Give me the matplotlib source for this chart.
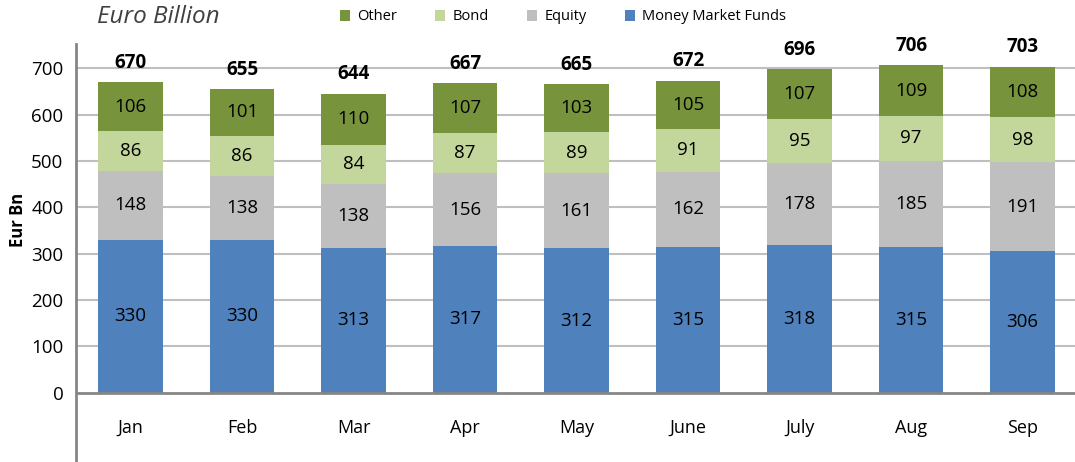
import matplotlib
matplotlib.use("Agg")
import matplotlib.pyplot as plt
import numpy as np

months = ["Jan", "Feb", "Mar", "Apr", "May", "June", "July", "Aug", "Sep"]
mmf = [330, 330, 313, 317, 312, 315, 318, 315, 306]
equity = [148, 138, 138, 156, 161, 162, 178, 185, 191]
bond = [86, 86, 84, 87, 89, 91, 95, 97, 98]
other = [106, 101, 110, 107, 103, 105, 107, 109, 108]
totals = [670, 655, 644, 667, 665, 672, 696, 706, 703]
series_names = ["Money Market Funds", "Equity", "Bond", "Other"]
colors = ["#4F81BD", "#BFBFBF", "#C3D69B", "#77933C"]

plt.rcParams['font.family'] = ['Open Sans', 'DejaVu Sans']

fig = plt.figure(figsize=(10.75, 4.62), dpi=100)
ax = fig.add_axes([76/1075, 0, 1 - 76/1075, 1 - 44/462])

x = np.arange(len(months))
width = 0.58
bottom = np.zeros(len(months))
handles = []
for name, vals, c in zip(series_names, [mmf, equity, bond, other], colors):
    vals = np.array(vals, dtype=float)
    b = ax.bar(x, vals, width, bottom=bottom, color=c, label=name, zorder=3)
    handles.append(b)
    for xi, v, bt in zip(x, vals, bottom):
        ax.text(xi, bt + v / 2, f"{int(v)}", ha='center', va='center',
                fontsize=13.5, color='black', zorder=4)
    bottom += vals

for xi, top, t in zip(x, bottom, totals):
    ax.annotate(f"{t}", (xi, top), xytext=(0, 14), textcoords='offset points',
                ha='center', va='center', fontsize=13.5, fontweight='bold')

for xi, m in zip(x, months):
    ax.text(xi, -75, m, ha='center', va='center', fontsize=13)

ax.set_xlim(-0.49, 8.47)
ax.set_ylim(-149, 752)
ax.set_yticks(range(0, 701, 100))
ax.tick_params(axis='y', length=0, labelsize=13.5, pad=9)
ax.set_xticks([])
for yv in range(100, 701, 100):
    ax.axhline(yv, color='#BFBFBF', lw=1.5, zorder=1)
ax.axhline(0, color='#868686', lw=2, zorder=5)
for s in ['top', 'right', 'bottom']:
    ax.spines[s].set_visible(False)
ax.spines['left'].set_color('#868686')
ax.spines['left'].set_linewidth(2)

fig.text(18/1075, 1 - 220/462, "Eur Bn", rotation=90, ha='center', va='center',
         fontsize=12, fontweight='bold')
fig.text(97/1075, 1 - 17/462, "Euro Billion", ha='left', va='center',
         fontsize=17.5, style='italic', color='#404040')

leg_handles = handles[::-1]
fig.legend(leg_handles, [h.get_label() for h in leg_handles], ncol=4,
           loc='center left', bbox_to_anchor=(340/1075, 1 - 17/462),
           frameon=False, fontsize=10.5, handlelength=0.7, handleheight=0.7,
           handletextpad=0.5, columnspacing=2.6, borderaxespad=0, borderpad=0)

fig.savefig("out.png", dpi=100)
